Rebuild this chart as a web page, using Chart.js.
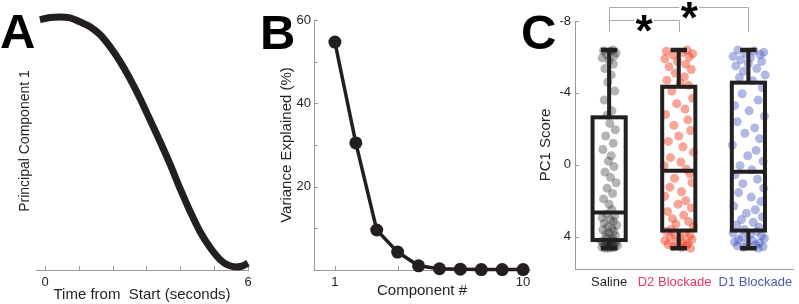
<!DOCTYPE html>
<html>
<head>
<meta charset="utf-8">
<script src="https://cdn.jsdelivr.net/npm/chart.js@4.4.1/dist/chart.umd.min.js"></script>
<style>
    html, body { margin: 0; padding: 0; background: #fff; }
    #fig { position: relative; width: 799px; height: 304px; overflow: hidden; }
    #fig canvas { position: absolute; left: 0; top: 0; }
</style>
</head>
<body>
<div id="fig">
    <canvas id="chartA" width="799" height="304"></canvas>
    <canvas id="chartB" width="799" height="304"></canvas>
    <canvas id="chartC" width="799" height="304"></canvas>
</div>
<script>
(function() {
    'use strict';

    // Panel A - first principal component over time
    const pcTime = [-0.15, 0.15, 0.44, 0.74, 1.03, 1.33, 1.63, 1.92, 2.22, 2.51, 2.81, 3.10, 3.40,
                    3.70, 3.99, 4.29, 4.58, 4.88, 5.17, 5.41, 5.65, 5.85, 6.0];
    const pcValue = [0.970, 0.979, 0.981, 0.977, 0.962, 0.943, 0.912, 0.866, 0.808, 0.742, 0.665,
                     0.583, 0.498, 0.409, 0.316, 0.227, 0.149, 0.087, 0.041, 0.019, 0.012, 0.016, 0.027];
    const timeTickMarks = [0, 1, 2, 3, 4, 5, 6];
    const timeTickLabels = [0, 6];

    // Panel B - scree plot
    const components = [1, 2, 3, 4, 5, 6, 7, 8, 9, 10];
    const varianceExplained = [54.7, 30.5, 9.6, 4.3, 1.0, 0.3, 0.2, 0.1, 0.1, 0.1];
    const varianceTickMarks = [10, 20, 30, 40, 50, 60];
    const varianceTickLabels = [20, 40, 60];
    const componentTickMarks = [1, 4, 7, 10];
    const componentTickLabels = [1, 10];

    // Panel C - PC1 scores per group
    const groups = ['Saline', 'D2 Blockade', 'D1 Blockade'];
    const groupLabelAt = [1, 1.94, 3.1];
    const whiskerTop = [-6.39, -6.39, -6.39];
    const boxTop = [-2.64, -4.34, -4.57];
    const medians = [2.65, 0.33, 0.39];
    const boxBottom = [4.19, 3.66, 3.66];
    const whiskerBottom = [4.65, 4.65, 4.65];
    const scoreTicks = [-8, -4, 0, 4];
    const sigPairs = [[1, 2], [1, 3]];

    const salineScores = [
        -6.39, -6.35, -6.3, -6.22, -6.15, -6.05, -5.95, -5.8, -5.6, -5.35, -5.0, -4.6, -4.1, -3.6, -3.0, -2.75,
        -2.3, -1.95, -1.6, -1.2, -0.85, -0.5, -0.2, 0.1, 0.4, 0.7, 1.0, 1.3, 1.6, 1.9, 2.2, 2.5,
        2.75, 2.85, 2.95, 3.05, 3.15, 3.25, 3.35, 3.45, 3.55, 3.62, 3.7, 3.8, 3.88, 3.95, 4.05, 4.12,
        4.22, 4.25, 4.28, 4.32, 4.35, 4.38, 4.41, 4.44, 4.47, 4.5, 4.53, 4.56, 4.59, 4.61, 4.63, 4.65
    ];
    const salineJitter = [
        0.05, -0.08, 0.02, 0.1, -0.04, 0.07, -0.1, 0.0, 0.06, -0.06, 0.03, -0.02, 0.08, -0.07, 0.04, -0.03,
        0.01, 0.09, -0.05, 0.06, -0.09, 0.03, -0.01, 0.07, -0.06, 0.02, 0.1, -0.03, 0.05, -0.08, 0.0, 0.04,
        -0.04, 0.08, -0.1, 0.02, 0.06, -0.07, 0.11, -0.02, 0.04, -0.09, 0.07, 0.0, -0.05, 0.09, -0.03, 0.05,
        0.03, -0.11, 0.08, -0.04, 0.1, 0.01, -0.08, 0.06, -0.02, 0.12, -0.06, 0.04, -0.1, 0.07, 0.0, -0.05
    ];
    const d2Scores = [
        -6.38, -6.32, -6.25, -6.18, -6.1, -6.0, -5.9, -5.75, -5.6, -5.45, -5.3, -5.1, -4.9, -4.7, -4.55, -4.42,
        -4.1, -3.7, -3.4, -3.1, -2.8, -2.5, -2.2, -1.9, -1.6, -1.3, -1.0, -0.7, -0.4, -0.15, 0.05, 0.25,
        0.5, 0.75, 1.0, 1.25, 1.5, 1.75, 2.0, 2.2, 2.4, 2.6, 2.8, 3.0, 3.15, 3.3, 3.45, 3.6,
        3.72, 3.8, 3.88, 3.95, 4.02, 4.1, 4.16, 4.22, 4.28, 4.34, 4.4, 4.45, 4.5, 4.55, 4.6, 4.65
    ];
    const d2Jitter = [
        0.12, -0.18, 0.05, 0.2, -0.08, 0.15, -0.2, -0.02, 0.1, -0.14, 0.18, -0.05, 0.08, -0.17, 0.02, 0.14,
        -0.1, 0.2, -0.03, 0.09, -0.19, 0.13, -0.07, 0.17, 0.0, -0.15, 0.06, 0.21, -0.12, 0.03, -0.21, 0.11,
        0.16, -0.06, 0.19, -0.13, 0.04, -0.2, 0.1, -0.01, 0.18, -0.16, 0.07, -0.09, 0.14, -0.04, 0.21, -0.11,
        -0.18, 0.09, -0.06, 0.16, -0.12, 0.02, 0.19, -0.2, 0.06, -0.03, 0.13, -0.15, 0.11, -0.08, 0.04, 0.17
    ];
    const d1Scores = [
        -6.38, -6.33, -6.26, -6.2, -6.12, -6.03, -5.95, -5.85, -5.75, -5.62, -5.5, -5.35, -5.2, -5.0, -4.85, -4.68,
        -4.3, -3.95, -3.6, -3.3, -3.0, -2.7, -2.4, -2.05, -1.75, -1.45, -1.1, -0.8, -0.5, -0.2, 0.05, 0.28,
        0.55, 0.8, 1.05, 1.3, 1.55, 1.8, 2.05, 2.3, 2.5, 2.7, 2.9, 3.05, 3.2, 3.35, 3.48, 3.6,
        3.72, 3.8, 3.88, 3.96, 4.03, 4.1, 4.17, 4.23, 4.29, 4.35, 4.41, 4.46, 4.51, 4.56, 4.6, 4.64
    ];
    const d1Jitter = [
        -0.15, 0.08, 0.22, -0.04, 0.17, -0.22, 0.03, -0.11, 0.19, 0.0, -0.18, 0.12, -0.07, 0.24, -0.13, 0.06,
        0.2, -0.09, 0.14, -0.2, 0.01, 0.23, -0.16, 0.09, -0.05, 0.16, -0.23, 0.11, -0.01, 0.21, -0.12, 0.05,
        -0.19, 0.13, -0.08, 0.22, -0.14, 0.04, 0.18, -0.21, 0.1, -0.03, 0.2, -0.1, 0.07, -0.17, 0.15, -0.06,
        0.12, -0.22, 0.02, 0.19, -0.09, 0.23, -0.14, 0.06, -0.2, 0.16, -0.02, 0.1, -0.16, 0.21, -0.07, 0.14
    ];

    const INK = '#231f20';
    const AXIS_GRAY = '#9a9a9a';
    const FONT = "'Liberation Sans', Arial, sans-serif";
    const groupTextColors = [INK, '#e8365d', '#4a5bb0'];
    const groupPointColors = ['rgba(35, 35, 35, 0.34)', 'rgba(240, 65, 35, 0.48)', 'rgba(60, 78, 188, 0.4)'];

    Chart.defaults.font.family = FONT;
    Chart.defaults.color = INK;
    Chart.defaults.animation = false;
    Chart.defaults.events = [];
    Chart.defaults.plugins.legend.display = false;
    Chart.defaults.plugins.tooltip.enabled = false;

    function fixedTicks(values) {
        return function(scale) {
            scale.ticks = values.map(v => ({ value: v }));
        };
    }

    // small inward tick marks, MATLAB style
    function tickMarksPlugin(spec) {
        return {
            id: 'tickMarks',
            beforeDatasetsDraw(chart) {
                const ctx = chart.ctx;
                ctx.save();
                ctx.strokeStyle = AXIS_GRAY;
                ctx.lineWidth = 1;
                spec.forEach(s => {
                    const scale = chart.scales[s.axis];
                    s.values.forEach(v => {
                        const p = Math.round(scale.getPixelForValue(v)) + 0.5;
                        ctx.beginPath();
                        if (scale.isHorizontal()) {
                            ctx.moveTo(p, scale.top);
                            ctx.lineTo(p, scale.top - 4);
                        } else {
                            ctx.moveTo(scale.right, p);
                            ctx.lineTo(scale.right + 4, p);
                        }
                        ctx.stroke();
                    });
                });
                ctx.restore();
            }
        };
    }

    function panelLetter(letter, x, y) {
        return {
            id: 'panelLetter',
            afterDraw(chart) {
                const ctx = chart.ctx;
                ctx.save();
                ctx.font = 'bold 49px ' + FONT;
                ctx.fillStyle = '#000';
                ctx.textAlign = 'left';
                ctx.textBaseline = 'alphabetic';
                ctx.fillText(letter, x, y);
                ctx.restore();
            }
        };
    }

    function axisTitle(text, size, padding) {
        return { display: true, text: text, color: INK, font: { size: size }, padding: padding };
    }

    // ---- Panel A ----
    new Chart(document.getElementById('chartA'), {
        type: 'scatter',
        data: {
            datasets: [{
                data: pcTime.map((t, i) => ({ x: t, y: pcValue[i] })),
                showLine: true,
                borderColor: INK,
                borderWidth: 7,
                borderCapStyle: 'butt',
                pointRadius: 0,
                cubicInterpolationMode: 'monotone',
                clip: false
            }]
        },
        options: {
            responsive: false,
            layout: { padding: { left: 0, right: 551, top: 12, bottom: 0 } },
            scales: {
                x: {
                    type: 'linear', min: -0.266, max: 6.0,
                    afterBuildTicks: fixedTicks(timeTickLabels),
                    afterFit: s => { s.height = 34; },
                    grid: { display: false, drawTicks: false },
                    border: { color: AXIS_GRAY, width: 1 },
                    ticks: { font: { size: 13 }, padding: 5, maxRotation: 0, autoSkip: false },
                    title: axisTitle('Time from  Start (seconds)', 15, { top: 0, bottom: 0 })
                },
                y: {
                    min: 0, max: 1,
                    afterFit: s => { s.width = 36; },
                    grid: { display: false, drawTicks: false },
                    border: { display: false },
                    ticks: { display: false },
                    title: axisTitle('Principal Component 1', 14, { top: 16.6, bottom: 0 })
                }
            }
        },
        plugins: [tickMarksPlugin([{ axis: 'x', values: timeTickMarks }]), panelLetter('A', 0, 48)]
    });

    // ---- Panel B ----
    new Chart(document.getElementById('chartB'), {
        type: 'scatter',
        data: {
            datasets: [{
                data: components.map((c, i) => ({ x: c, y: varianceExplained[i] })),
                showLine: true,
                borderColor: INK,
                borderWidth: 3.5,
                pointRadius: 6.5,
                pointBackgroundColor: INK,
                pointBorderWidth: 0,
                clip: false
            }]
        },
        options: {
            responsive: false,
            layout: { padding: { left: 260, right: 269, top: 20, bottom: 0 } },
            scales: {
                x: {
                    type: 'linear', min: 0, max: 10.33,
                    afterBuildTicks: fixedTicks(componentTickLabels),
                    afterFit: s => { s.height = 34; },
                    grid: { display: false, drawTicks: false },
                    border: { color: AXIS_GRAY, width: 1 },
                    ticks: { font: { size: 13 }, padding: 5, maxRotation: 0, autoSkip: false },
                    title: axisTitle('Component #', 15, { top: 0, bottom: 4.5 })
                },
                y: {
                    min: 0, max: 60,
                    afterBuildTicks: fixedTicks(varianceTickLabels),
                    afterFit: s => { s.width = 54; },
                    grid: { display: false, drawTicks: false },
                    border: { color: AXIS_GRAY, width: 1 },
                    ticks: { font: { size: 13 }, padding: 3 },
                    title: axisTitle('Variance Explained (%)', 15, { top: 18, bottom: 0 })
                }
            }
        },
        plugins: [
            tickMarksPlugin([{ axis: 'x', values: componentTickMarks }, { axis: 'y', values: varianceTickMarks }]),
            panelLetter('B', 260, 49)
        ]
    });

    // ---- Panel C ----
    const BOX_HALF = 0.238;
    const CAP_HALF = 0.118;

    const boxPlotPlugin = {
        id: 'boxPlot',
        afterDatasetsDraw(chart) {
            const { ctx, scales: { x, y } } = chart;
            ctx.save();
            ctx.strokeStyle = INK;
            ctx.lineWidth = 4;
            ctx.lineCap = 'butt';
            ctx.lineJoin = 'miter';
            groups.forEach((g, i) => {
                const c = i + 1;
                const xc = x.getPixelForValue(c);
                const left = x.getPixelForValue(c - BOX_HALF);
                const right = x.getPixelForValue(c + BOX_HALF);
                const capL = x.getPixelForValue(c - CAP_HALF);
                const capR = x.getPixelForValue(c + CAP_HALF);
                const yWt = y.getPixelForValue(whiskerTop[i]);
                const yBt = y.getPixelForValue(boxTop[i]);
                const yMed = y.getPixelForValue(medians[i]);
                const yBb = y.getPixelForValue(boxBottom[i]);
                const yWb = y.getPixelForValue(whiskerBottom[i]);

                ctx.beginPath();
                ctx.moveTo(xc, yWt); ctx.lineTo(xc, yBt);
                ctx.moveTo(xc, yBb); ctx.lineTo(xc, yWb);
                ctx.moveTo(left, yMed); ctx.lineTo(right, yMed);
                ctx.stroke();
                ctx.strokeRect(left, yBt, right - left, yBb - yBt);

                ctx.lineWidth = 4.5;
                ctx.beginPath();
                ctx.moveTo(capL, yWt); ctx.lineTo(capR, yWt);
                ctx.moveTo(capL, yWb); ctx.lineTo(capR, yWb);
                ctx.stroke();
                ctx.lineWidth = 4;
            });
            ctx.restore();
        }
    };

    // significance brackets above the boxes
    const bracketLevels = [-8.06, -8.78];
    const bracketFoot = -7.39;
    const starPositions = [1.5, 2.15];

    const bracketPlugin = {
        id: 'brackets',
        afterDraw(chart) {
            const { ctx, scales: { x, y } } = chart;
            ctx.save();
            ctx.strokeStyle = '#aaaaaa';
            ctx.lineWidth = 1;
            sigPairs.forEach((pair, i) => {
                const x1 = Math.round(x.getPixelForValue(pair[0])) + 0.5;
                const x2 = Math.round(x.getPixelForValue(pair[1])) + 0.5;
                const yl = Math.round(y.getPixelForValue(bracketLevels[i])) + 0.5;
                const yf = y.getPixelForValue(bracketFoot);
                const xs = x.getPixelForValue(starPositions[i]);
                ctx.beginPath();
                ctx.moveTo(x1, yf); ctx.lineTo(x1, yl); ctx.lineTo(xs - 10, yl);
                ctx.moveTo(xs + 10, yl); ctx.lineTo(x2, yl); ctx.lineTo(x2, yf);
                ctx.stroke();

                ctx.fillStyle = '#000';
                ctx.font = 'bold 44px ' + FONT;
                ctx.textAlign = 'center';
                ctx.textBaseline = 'alphabetic';
                ctx.fillText('*', xs, yl + 25);
            });
            ctx.restore();
        }
    };

    const groupScores = [salineScores, d2Scores, d1Scores];
    const groupJitter = [salineJitter, d2Jitter, d1Jitter];

    new Chart(document.getElementById('chartC'), {
        type: 'scatter',
        data: {
            datasets: groups.map((g, gi) => ({
                label: g,
                data: groupScores[gi].map((v, i) => ({ x: gi + 1 + groupJitter[gi][i], y: v })),
                pointRadius: 4.5,
                pointBorderWidth: 0,
                pointBackgroundColor: groupPointColors[gi],
                clip: false
            }))
        },
        options: {
            responsive: false,
            layout: { padding: { left: 530, right: 0, top: 21, bottom: 0 } },
            scales: {
                x: {
                    type: 'linear', min: 0.51, max: 3.643,
                    afterBuildTicks: fixedTicks(groupLabelAt),
                    afterFit: s => { s.height = 35; },
                    grid: { display: false, drawTicks: false },
                    border: { color: AXIS_GRAY, width: 1 },
                    ticks: {
                        font: { size: 13 }, padding: 6, maxRotation: 0, autoSkip: false,
                        color: c => groupTextColors[c.index],
                        callback: (v, i) => groups[i]
                    }
                },
                y: {
                    reverse: true, min: -8, max: 5.8,
                    afterBuildTicks: fixedTicks(scoreTicks),
                    afterFit: s => { s.width = 45; },
                    grid: { display: false, drawTicks: false },
                    border: { color: AXIS_GRAY, width: 1 },
                    ticks: { font: { size: 13 }, padding: 4 },
                    title: axisTitle('PC1 Score', 15, { top: 6.5, bottom: 0 })
                }
            }
        },
        plugins: [
            tickMarksPlugin([{ axis: 'y', values: scoreTicks }]),
            boxPlotPlugin, bracketPlugin,
            panelLetter('C', 521, 49)
        ]
    });
})();
</script>
</body>
</html>
